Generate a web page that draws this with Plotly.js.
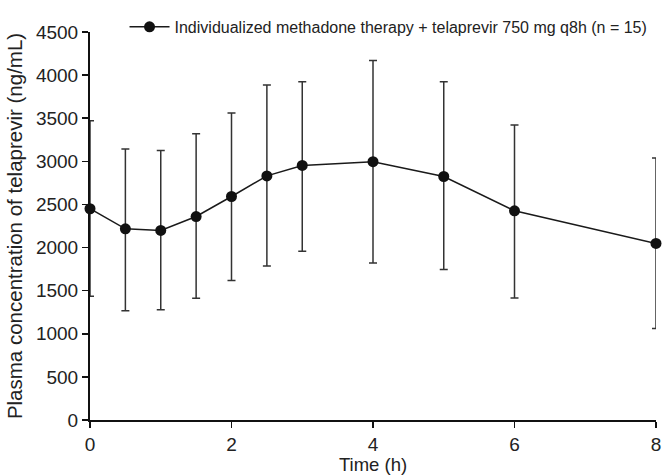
<!DOCTYPE html>
<html>
<head>
<meta charset="utf-8">
<script src="https://cdn.plot.ly/plotly-3.0.1.min.js"></script>
<style>html,body{margin:0;padding:0;background:#fff;}#chart{width:666px;height:475px;}</style>
</head>
<body>
<div id="chart"></div>
<script>
var timeH = [0, 0.5, 1, 1.5, 2, 2.5, 3, 4, 5, 6, 8];
var meanConc = [2450, 2217, 2198, 2360, 2592, 2831, 2952, 2996, 2824, 2426, 2048];
var upperBar = [3470, 3143, 3125, 3320, 3562, 3886, 3923, 4169, 3923, 3422, 3040];
var lowerBar = [1434, 1268, 1279, 1412, 1618, 1787, 1956, 1820, 1746, 1415, 1062];
var seriesName = "Individualized methadone therapy + telaprevir 750 mg q8h (n = 15)";

var errPlus = upperBar.map(function(u, i){ return u - meanConc[i]; });
var errMinus = lowerBar.map(function(l, i){ return meanConc[i] - l; });

var trace = {
  x: timeH, y: meanConc, type: 'scatter', mode: 'lines+markers',
  name: seriesName,
  line: {color: '#1a1a1a', width: 1.5},
  marker: {color: '#111', size: 11},
  error_y: {type: 'data', symmetric: false, array: errPlus, arrayminus: errMinus,
            color: '#333', thickness: 1.5, width: 4},
  cliponaxis: false
};

var fam = 'Liberation Sans, Arial, Helvetica, sans-serif';
var layout = {
  width: 666, height: 475,
  margin: {l: 90, r: 10, t: 12, b: 55},
  paper_bgcolor: '#fff', plot_bgcolor: '#fff',
  font: {family: fam, color: '#222'},
  showlegend: true,
  legend: {x: 0.061, y: 1.013, xanchor: 'left', yanchor: 'middle', bgcolor: 'rgba(0,0,0,0)',
           font: {family: fam, size: 16, color: '#222'}, itemwidth: 40},
  xaxis: {
    range: [0, 8], tickvals: [0, 2, 4, 6, 8], showgrid: false, zeroline: false,
    showline: true, linecolor: '#111', linewidth: 2,
    ticks: 'outside', ticklen: 6, tickwidth: 1.5, tickcolor: '#111',
    tickfont: {family: fam, size: 19, color: '#222'},
    title: {text: 'Time (h)', font: {family: fam, size: 18.5, color: '#222'}, standoff: 2}
  },
  yaxis: {
    range: [0, 4500], dtick: 500, tick0: 0, showgrid: false, zeroline: false,
    showline: true, linecolor: '#111', linewidth: 2,
    ticks: 'outside', ticklen: 6, tickwidth: 1.5, tickcolor: '#111',
    tickfont: {family: fam, size: 19, color: '#222'},
    title: {text: '\u00a0\u00a0\u00a0\u00a0\u00a0Plasma concentration of telaprevir (ng/mL)', font: {family: fam, size: 20.5, color: '#222'}, standoff: 8}
  }
};
Plotly.newPlot('chart', [trace], layout, {displayModeBar: false, staticPlot: true});
</script>
</body>
</html>
